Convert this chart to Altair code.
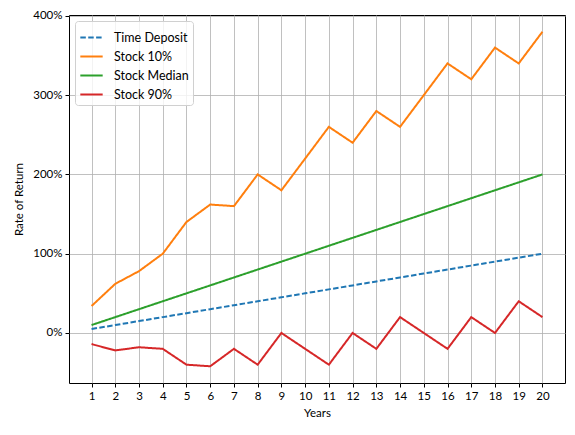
"""Rate of return of a time deposit versus stock percentiles over 20 years."""

import altair as alt
import pandas as pd

YEARS = list(range(1, 21))
TIME_DEPOSIT = [5, 10, 15, 20, 25, 30, 35, 40, 45, 50,
                55, 60, 65, 70, 75, 80, 85, 90, 95, 100]
STOCK_10 = [34, 62, 78, 100, 140, 162, 160, 200, 180, 220,
            260, 240, 280, 260, 300, 340, 320, 360, 340, 380]
STOCK_MEDIAN = [10, 20, 30, 40, 50, 60, 70, 80, 90, 100,
                110, 120, 130, 140, 150, 160, 170, 180, 190, 200]
STOCK_90 = [-14, -22, -18, -20, -40, -42, -20, -40, 0, -20,
            -40, 0, -20, 20, 0, -20, 20, 0, 40, 20]

SERIES = ["Time Deposit", "Stock 10%", "Stock Median", "Stock 90%"]
COLORS = ["#1f77b4", "#ff7f0e", "#2ca02c", "#d62728"]
DASHES = [[5.5, 2.4], [1, 0], [1, 0], [1, 0]]
Y_TICKS = [0, 100, 200, 300, 400]

FONT = "Lato"
GRID = "#b0b0b0"

rows = []
for name, values in zip(SERIES, [TIME_DEPOSIT, STOCK_10, STOCK_MEDIAN, STOCK_90]):
    for year, value in zip(YEARS, values):
        rows.append({"year": year, "rate": value, "series": name})
df = pd.DataFrame(rows)

legend = alt.Legend(
    title=None,
    orient="top-left",
    offset=6,
    symbolType="stroke",
    symbolSize=500,
    symbolStrokeWidth=2,
    labelFontSize=12.5,
    labelFont=FONT,
    labelColor="#000000",
    labelOffset=10,
    rowPadding=-2,
    padding=4,
    strokeColor="#d0d0d0",
    fillColor="rgba(255,255,255,0.8)",
    cornerRadius=3,
)

chart = (
    alt.Chart(df)
    .mark_line(strokeWidth=2, clip=True)
    .encode(
        x=alt.X(
            "year:Q",
            title="Years",
            scale=alt.Scale(domain=[0.05, 20.95], nice=False, zero=False),
            axis=alt.Axis(values=YEARS, format="d"),
        ),
        y=alt.Y(
            "rate:Q",
            title="Rate of Return",
            scale=alt.Scale(domain=[-63.1, 401.1], nice=False, zero=False),
            axis=alt.Axis(values=Y_TICKS, labelExpr="datum.value + '%'"),
        ),
        color=alt.Color(
            "series:N",
            sort=SERIES,
            scale=alt.Scale(domain=SERIES, range=COLORS),
            legend=legend,
        ),
        strokeDash=alt.StrokeDash(
            "series:N",
            sort=SERIES,
            scale=alt.Scale(domain=SERIES, range=DASHES),
            legend=legend,
        ),
        detail="series:N",
    )
    .properties(
        width=496,
        height=368,
        autosize=alt.AutoSizeParams(type="none"),
        padding={"left": 61, "top": 7, "right": 2, "bottom": 44},
    )
    .configure(background="white")
    .configure_axis(
        labelFont=FONT,
        titleFont=FONT,
        labelFontSize=11.5,
        titleFontSize=11.5,
        titleFontWeight="normal",
        labelColor="#000000",
        titleColor="#000000",
        grid=True,
        gridColor=GRID,
        gridWidth=0.8,
        domain=False,
        tickColor="#000000",
        tickSize=4,
        labelPadding=3,
    )
    .configure_axisX(titlePadding=6)
    .configure_axisY(titlePadding=8)
    .configure_view(stroke="#000000", strokeWidth=1)
)

chart.save("out.html", embed_options={"renderer": "svg", "actions": False})
